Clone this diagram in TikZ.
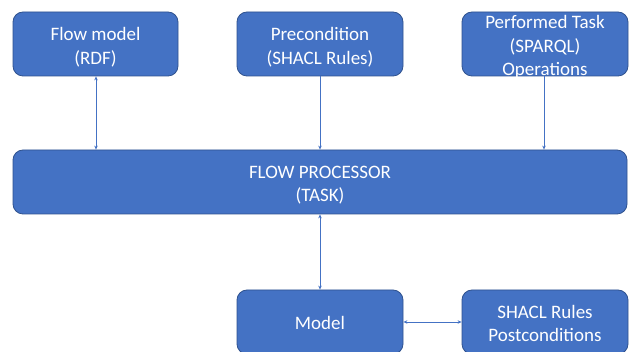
\documentclass[tikz,border=0pt]{standalone}
\usepackage{fontspec}
\setmainfont{Carlito}
\usetikzlibrary{arrows.meta}
\definecolor{boxfill}{HTML}{4472C4}
\definecolor{boxline}{HTML}{2F528F}
\tikzset{
  blk/.style={draw=boxline, line width=0.8pt, fill=boxfill, rounded corners=10pt, inner sep=0pt},
  txt/.style={text=white, align=center, inner sep=0pt, font=\fontsize{19}{23.5}\selectfont},
  conn/.style={draw=boxfill, line width=0.9pt, {Stealth[length=4pt,width=3.5pt]}-{Stealth[length=4pt,width=3.5pt]}},
  conn1/.style={draw=boxfill, line width=0.9pt, -{Stealth[length=4pt,width=3.5pt]}}
}
\begin{document}
\begin{tikzpicture}[x=1pt,y=-1pt]
\useasboundingbox (0,0) rectangle (633,352);
\fill[white] (0,0) rectangle (633,352);
\node[blk, minimum width=165pt, minimum height=64pt] (fm) at (95.5,44) {};
\node[blk, minimum width=166pt, minimum height=64pt] (pre) at (320,44) {};
\node[blk, minimum width=166pt, minimum height=64pt] (pt) at (545,44) {};
\node[blk, minimum width=614pt, minimum height=64pt] (fp) at (320,182) {};
\node[blk, minimum width=166pt, minimum height=64pt] (mo) at (320,322) {};
\node[blk, minimum width=166pt, minimum height=64pt] (pc) at (545,322) {};
\node[txt] (fmt) at ([yshift=-3pt]fm.center) {Flow model\\(RDF)};
\node[txt] (pret) at ([yshift=-3pt]pre.center) {Precondition\\(SHACL Rules)};
\node[txt] (ptt) at ([yshift=-3pt]pt.center) {Performed Task\\(SPARQL)\\Operations};
\node[txt] (fpt) at ([yshift=-3pt]fp.center) {FLOW PROCESSOR\\(TASK)};
\node[txt] (mot) at ([yshift=-1pt]mo.center) {Model};
\node[txt] (pct) at ([yshift=-1.5pt]pc.center) {SHACL Rules\\Postconditions};
\draw[conn] (fm.south -| 96,0) -- (fp.north -| 96,0);
\draw[conn1] (pre.south) -- (fp.north -| pre.south);
\draw[conn1] (pt.south -| 544,0) -- (fp.north -| 544,0);
\draw[conn] (fp.south -| mo.north) -- (mo.north);
\draw[conn] (mo.east) -- (pc.west);
\end{tikzpicture}
\end{document}
